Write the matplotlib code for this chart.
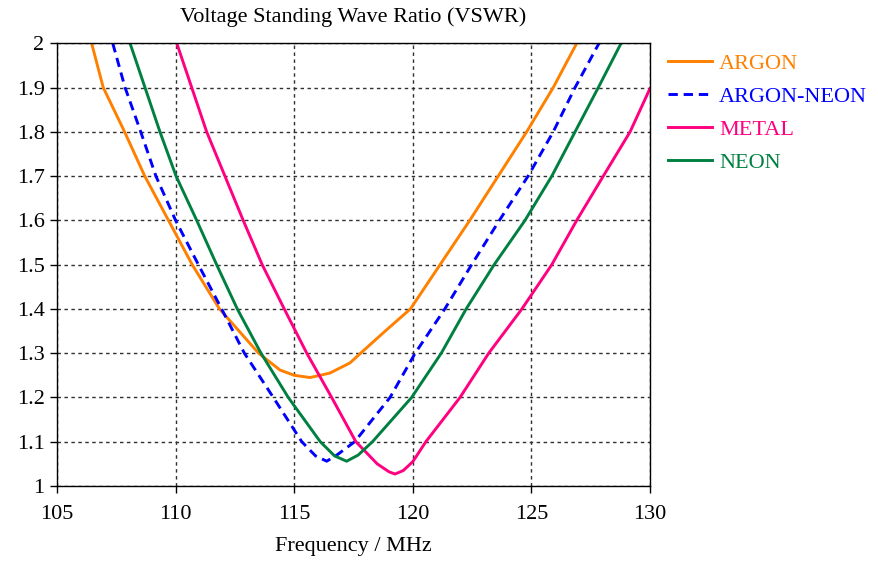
import matplotlib
matplotlib.use("Agg")
import matplotlib.pyplot as plt

plt.rcParams['font.family'] = ['Liberation Serif', 'DejaVu Serif']

argon_x = [106.46, 106.95, 107.85, 108.7, 109.7, 110.7, 111.85, 113.5, 114.4, 115.0, 115.67,
           116.5, 117.35, 117.8, 118.9, 119.9, 121.15, 122.4, 123.6, 124.8, 125.92, 126.91]
argon_y = [2.0, 1.9, 1.8, 1.7, 1.6, 1.5, 1.4, 1.3, 1.262, 1.25, 1.245,
           1.255, 1.278, 1.3, 1.353, 1.4, 1.5, 1.6, 1.7, 1.8, 1.9, 2.0]

arne_x = [107.35, 107.87, 108.53, 109.17, 110.0, 110.96, 111.94, 112.9, 114.12, 115.32, 115.9, 116.37,
          116.8, 117.55, 119.04, 120.1, 121.35, 122.48, 123.65, 124.86, 125.92, 126.84, 127.85]
arne_y = [2.0, 1.9, 1.8, 1.7, 1.6, 1.5, 1.4, 1.3, 1.2, 1.1, 1.068, 1.056,
          1.07, 1.1, 1.2, 1.3, 1.4, 1.5, 1.6, 1.7, 1.8, 1.9, 2.0]

metal_x = [110.05, 110.68, 111.31, 112.08, 112.85, 113.65, 114.58, 115.53, 116.58, 117.6, 118.5,
           119.0, 119.25, 119.6, 120.0, 120.55, 121.99, 123.2, 124.6, 125.86, 126.91, 128.03, 129.16, 130.0]
metal_y = [2.0, 1.9, 1.8, 1.7, 1.6, 1.5, 1.4, 1.3, 1.2, 1.1, 1.05,
           1.032, 1.027, 1.035, 1.055, 1.1, 1.2, 1.3, 1.4, 1.5, 1.6, 1.7, 1.8, 1.898]

neon_x = [108.08, 108.71, 109.34, 110.02, 110.89, 111.73, 112.6, 113.6, 114.75, 116.1, 116.7, 117.21,
          117.7, 118.3, 119.95, 121.2, 122.25, 123.43, 124.73, 125.86, 126.84, 127.82, 128.78]
neon_y = [2.0, 1.9, 1.8, 1.7, 1.6, 1.5, 1.4, 1.3, 1.2, 1.1, 1.068, 1.056,
          1.07, 1.1, 1.2, 1.3, 1.4, 1.5, 1.6, 1.7, 1.8, 1.9, 2.0]

x_ticks = [105, 110, 115, 120, 125, 130]
y_ticks = [1, 1.1, 1.2, 1.3, 1.4, 1.5, 1.6, 1.7, 1.8, 1.9, 2]
y_labels = ['1', '1.1', '1.2', '1.3', '1.4', '1.5', '1.6', '1.7', '1.8', '1.9', '2']

fig = plt.figure(figsize=(8.79, 5.63), dpi=100)
ax = fig.add_axes([57/879, 1-486/563, (650-57)/879, (486-43.3)/563])

lw = 2.1
ax.plot(argon_x, argon_y, color='#FF8000', lw=lw, label='ARGON')
ax.plot(arne_x, arne_y, color='#0000FF', lw=lw, ls=(0, (3.2, 2.0)), label='ARGON-NEON')
ax.plot(metal_x, metal_y, color='#FF0080', lw=lw, label='METAL')
ax.plot(neon_x, neon_y, color='#008040', lw=lw, label='NEON')

fs = 16
ax.set_xlim(105, 130)
ax.set_ylim(1, 2)
ax.set_xticks(x_ticks)
ax.set_xticklabels([str(v) for v in x_ticks])
ax.set_yticks(y_ticks)
ax.set_yticklabels(y_labels)
ax.tick_params(labelsize=fs, direction='out', length=5, width=1, colors='black')
ax.tick_params(axis='x', pad=9)
ax.tick_params(axis='y', pad=4)
ax.grid(True, color='#303030', ls=(0, (2.5, 2.5)), lw=1)
for s in ax.spines.values():
    s.set_color('black')
    s.set_linewidth(1)

ax.set_title('Voltage Standing Wave Ratio (VSWR)', fontsize=fs, pad=15)
ax.set_xlabel('Frequency / MHz', fontsize=fs, labelpad=9)

leg = fig.legend(loc='upper left', bbox_to_anchor=(668/879, 1-53/563), frameon=False, fontsize=fs,
                 labelcolor='linecolor', handlelength=2.0, handletextpad=0.3, labelspacing=0.56,
                 borderpad=0, borderaxespad=0)

fig.savefig('out.png', dpi=100)
